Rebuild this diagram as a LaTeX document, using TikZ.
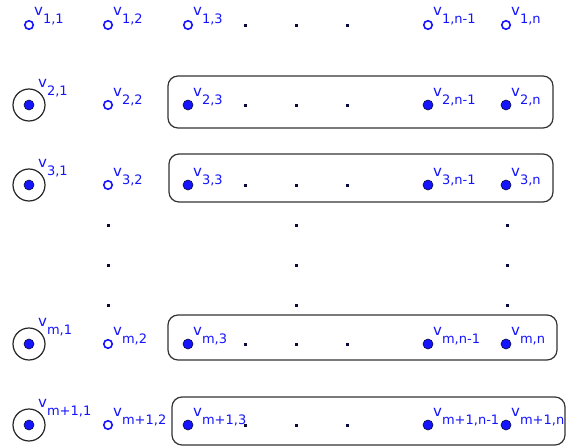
\documentclass[tikz,border=0pt]{standalone}
\usepackage{fontspec}
\setmainfont{DejaVu Sans}
\definecolor{vblue}{RGB}{20,20,255}
\definecolor{dotc}{RGB}{10,10,60}
\begin{document}
\begin{tikzpicture}[x=1pt,y=-1pt,
  hol/.style={circle,draw=vblue,fill=white,line width=1.6pt,inner sep=0pt,minimum size=8.5pt},
  fil/.style={circle,draw=dotc,fill=vblue,line width=0.6pt,inner sep=0pt,minimum size=10pt},
  bigc/.style={circle,draw=black!85,line width=1.2pt,inner sep=0pt,minimum size=32pt},
  lab/.style={anchor=base west,inner sep=0pt,text=vblue,font=\fontsize{13}{15}\selectfont},
  sdot/.style={rectangle,fill=dotc,inner sep=0pt,minimum size=3pt},
  boxn/.style={rectangle,draw=black!80,line width=1.2pt,rounded corners=10pt,inner sep=0pt}]
\useasboundingbox (0,0) rectangle (571,447);
\newcommand{\Vtx}[5]{%
  \node[fil,#2] (#1) at (#3,#4) {};
  \node[lab] (#1l) at ([shift={(5,-9)}]#1.center) {{\fontsize{15}{15}\selectfont v}\raisebox{-8pt}{#5}};}
\newcommand{\VtxA}[4]{%
  \node[fil] (#1) at (#2,#3) {};
  \node[bigc] (#1c) at (#1.center) {};
  \node[lab] (#1l) at ([shift={(9,-18)}]#1.center) {{\fontsize{15}{15}\selectfont v}\raisebox{-8pt}{#4}};}
% boxes
\node[boxn,minimum width=385pt,minimum height=52pt] (b2) at (360.5,102) {};
\node[boxn,minimum width=384pt,minimum height=48pt] (b3) at (361,178) {};
\node[boxn,minimum width=389pt,minimum height=45pt] (bm) at (362.5,337.5) {};
\node[boxn,minimum width=393pt,minimum height=48pt] (bm1) at (368.5,421) {};
% row 1
\Vtx{v11}{hol}{29}{25}{1,1}
\Vtx{v12}{hol}{108}{25}{1,2}
\Vtx{v13}{hol}{188}{25}{1,3}
\Vtx{v1n1}{hol}{428}{25}{1,n-1}
\Vtx{v1n}{hol}{506}{25}{1,n}
% row 2
\VtxA{v21}{29}{105}{2,1}
\Vtx{v22}{hol}{108}{105}{2,2}
\Vtx{v23}{}{188}{105}{2,3}
\Vtx{v2n1}{}{428}{105}{2,n-1}
\Vtx{v2n}{}{506}{105}{2,n}
% row 3
\VtxA{v31}{29}{185}{3,1}
\Vtx{v32}{hol}{108}{185}{3,2}
\Vtx{v33}{}{188}{185}{3,3}
\Vtx{v3n1}{}{428}{185}{3,n-1}
\Vtx{v3n}{}{506}{185}{3,n}
% row m
\VtxA{vm1}{29}{344}{m,1}
\Vtx{vm2}{hol}{108}{344}{m,2}
\Vtx{vm3}{}{188}{344}{m,3}
\Vtx{vmn1}{}{428}{344}{m,n-1}
\Vtx{vmn}{}{506}{344}{m,n}
% row m+1
\VtxA{vp1}{29}{425}{m+1,1}
\Vtx{vp2}{hol}{108}{425}{m+1,2}
\Vtx{vp3}{}{188}{425}{m+1,3}
\Vtx{vpn1}{}{428}{425}{m+1,n-1}
\Vtx{vpn}{}{506}{425}{m+1,n}
% horizontal ellipsis dots
\foreach \r/\y in {1/25,2/105,3/185,m/344,p/425}{
  \node[sdot] (h\r a) at (245,\y) {};
  \node[sdot] (h\r b) at (296,\y) {};
  \node[sdot] (h\r c) at (347,\y) {};
}
% vertical ellipsis dots
\foreach \c/\x in {a/108,b/296,c/507}{
  \node[sdot] (vd\c1) at (\x,225) {};
  \node[sdot] (vd\c2) at (\x,265) {};
  \node[sdot] (vd\c3) at (\x,305) {};
}
\end{tikzpicture}
\end{document}
